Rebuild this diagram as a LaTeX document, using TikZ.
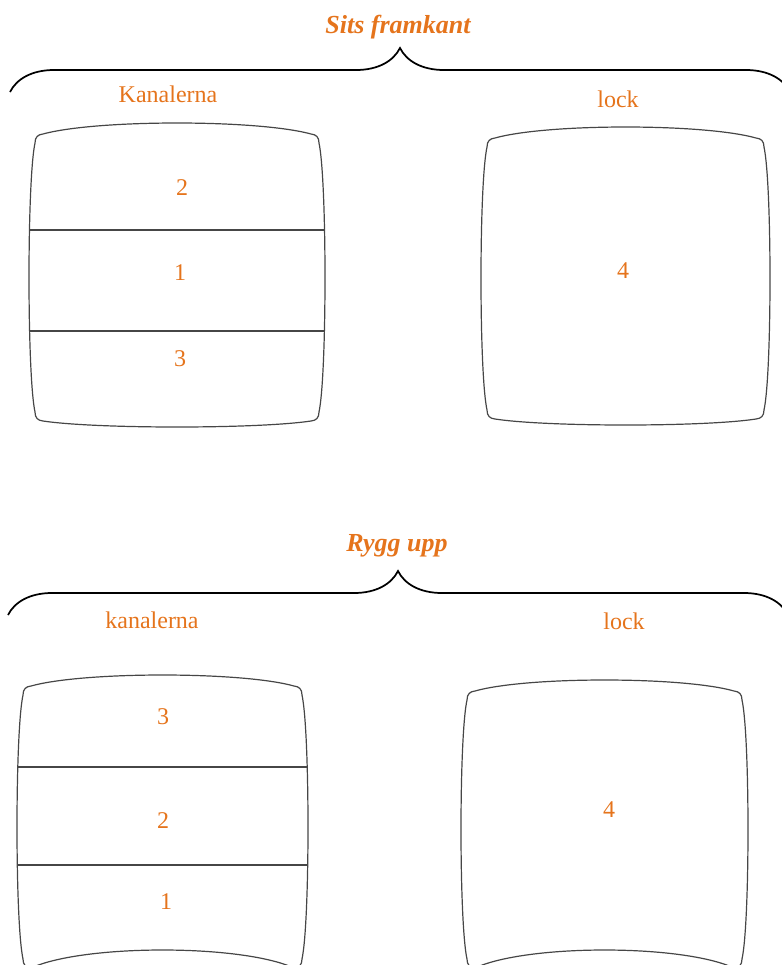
\documentclass[tikz,border=0pt]{standalone}
\usepackage{fontspec}
\setmainfont{Liberation Serif}
\usetikzlibrary{decorations.pathreplacing}
\definecolor{lblorange}{RGB}{229,116,28}
\definecolor{padgray}{RGB}{70,70,70}
% cushion outline: left, top, right, bottom, top sag, bottom sag
\newcommand{\padshape}[6]{%
  \pgfmathsetmacro{\padya}{#2+#5}%
  \pgfmathsetmacro{\padyb}{#4-(#6)}%
  \pgfmathsetmacro{\padca}{(4*#2-(\padya-2))/3}%
  \pgfmathsetmacro{\padcb}{(4*#4-(\padyb+2))/3}%
  \pgfmathsetmacro{\padsa}{\padya+7+0.14*(\padyb-\padya-14)}%
  \pgfmathsetmacro{\padsb}{\padyb-7-0.14*(\padyb-\padya-14)}%
  \pgfmathsetmacro{\padxa}{#1+14+0.2*(#3-#1-28)}%
  \pgfmathsetmacro{\padxb}{#3-14-0.2*(#3-#1-28)}%
  \draw[pad] ({#1+6},{\padya+7})
    .. controls ({#1+6},{\padya+1}) and ({#1+9},{\padya-1.5}) .. ({#1+14},{\padya-2})
    .. controls (\padxa,\padca) and (\padxb,\padca) .. ({#3-14},{\padya-2})
    .. controls ({#3-9},{\padya-1.5}) and ({#3-6},{\padya+1}) .. ({#3-6},{\padya+7})
    .. controls ({#3+2},\padsa) and ({#3+2},\padsb) .. ({#3-6},{\padyb-7})
    .. controls ({#3-6},{\padyb-1}) and ({#3-9},{\padyb+1.5}) .. ({#3-14},{\padyb+2})
    .. controls (\padxb,\padcb) and (\padxa,\padcb) .. ({#1+14},{\padyb+2})
    .. controls ({#1+9},{\padyb+1.5}) and ({#1+6},{\padyb-1}) .. ({#1+6},{\padyb-7})
    .. controls ({#1-2},\padsb) and ({#1-2},\padsa) .. cycle;}

\begin{document}
\begin{tikzpicture}[x=0.75pt,y=-0.75pt,
  lbl/.style={text=lblorange,font=\fontsize{18}{21}\selectfont,anchor=base,inner sep=0pt},
  ttl/.style={lbl,font=\fontsize{19.5}{23}\selectfont\bfseries\itshape},
  pad/.style={draw=padgray,line width=0.9pt},
  brc/.style={draw,line width=1.3pt,decorate,decoration={brace,amplitude=33pt}}]
\useasboundingbox (0,0) rectangle (782,965);
\clip (0,0) rectangle (782,965);

% seat front
\node[ttl] (sitsttl) at (398,33) {Sits framkant};
\coordinate (sbl) at (10,92);
\coordinate (sbr) at (790,92);
\draw[brc] (sbl) -- (sbr);
\node[lbl] (sitskan) at (168,102) {Kanalerna};
\node[lbl] (sitslock) at (618,107) {lock};
\padshape{29}{123}{325}{427}{13}{8}
\draw[pad] (29,230) -- (325,230) (29,331) -- (325,331);
\padshape{481}{127}{770}{425}{13}{8}
\foreach \nm/\x/\y/\t in {sa/182/195/2,sb/180/280/1,sc/180/366/3,sd/623/278/4}
  \node[lbl] (\nm) at (\x,\y) {\t};

% back up
\node[ttl] (ryggttl) at (397,551) {Rygg upp};
\coordinate (rbl) at (8,615);
\coordinate (rbr) at (788,615);
\draw[brc] (rbl) -- (rbr);
\node[lbl] (ryggkan) at (152,628) {kanalerna};
\node[lbl] (rygglock) at (624,629) {lock};
\padshape{17}{675}{308}{950}{13}{-16}
\draw[pad] (17,767) -- (308,767) (17,865) -- (308,865);
\padshape{461}{680}{748}{950}{13}{-16}
\foreach \nm/\x/\y/\t in {ra/163/724/3,rb/163/828/2,rc/166/909/1,rd/609/817/4}
  \node[lbl] (\nm) at (\x,\y) {\t};
\end{tikzpicture}
\end{document}
